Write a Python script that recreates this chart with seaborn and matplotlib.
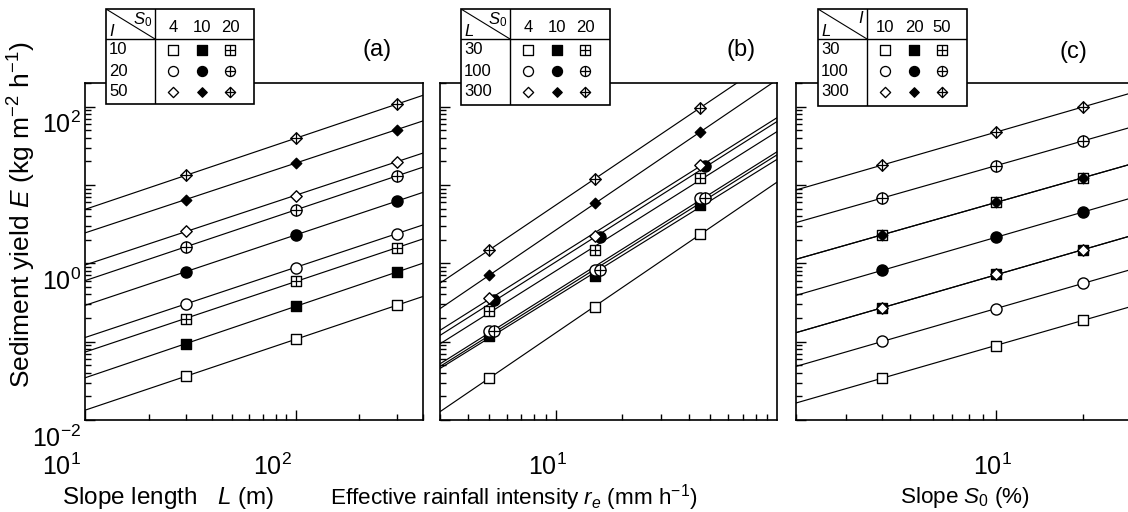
import numpy as np
import matplotlib
matplotlib.use("Agg")
import matplotlib.pyplot as plt
import matplotlib.transforms as mtransforms
from matplotlib import font_manager
from matplotlib.patches import Rectangle
from matplotlib.ticker import FixedLocator, LogLocator, FuncFormatter, NullFormatter
import seaborn as sns

sns.set_theme(style="ticks", rc={"axes.edgecolor": "black", "xtick.color": "black",
                                 "ytick.color": "black", "text.color": "black",
                                 "axes.labelcolor": "black"})
plt.rcParams["font.family"] = ["Liberation Sans", "DejaVu Sans"]
plt.rcParams["mathtext.fontset"] = "custom"
plt.rcParams["mathtext.rm"] = "Liberation Sans"
plt.rcParams["mathtext.it"] = "Liberation Sans:italic"
plt.rcParams["mathtext.bf"] = "Liberation Sans:bold"

# ---------------- data ----------------
I_levels = [10, 20, 50]
S0_levels = [4, 10, 20]
L_levels = [30, 100, 300]

# panel (a): x = slope length L; rows of each array: S0 = 4, 10, 20
L_a = [30, 100, 300]
E_a_I10 = [[0.036, 0.108, 0.29], [0.094, 0.284, 0.77], [0.197, 0.593, 1.57]]
E_a_I20 = [[0.304, 0.88, 2.40], [0.78, 2.31, 6.2], [1.62, 4.82, 13.0]]
E_a_I50 = [[2.55, 7.3, 19.9], [6.5, 19.1, 50.7], [13.2, 39.7, 107.0]]

# panel (b): x = effective rainfall intensity re; rows: S0 = 4, 10, 20
re_b = [5, 15, 45]
E_b_L30 = [[0.0343, 0.279, 2.35], [0.117, 0.69, 5.5], [0.245, 1.48, 12.2]]
E_b_L100 = [[0.136, 0.82, 6.75], [0.345, 2.17, 17.7], [0.138, 0.83, 6.8]]
E_b_L300 = [[0.363, 2.24, 18.2], [0.70, 5.8, 47.4], [1.48, 11.9, 97.0]]

# panel (c): x = slope S0; rows: I = 10, 20, 50
S0_c = [4, 10, 20]
E_c_L30 = [[0.0343, 0.089, 0.187], [0.27, 0.72, 1.48], [2.31, 6.0, 12.3]]
E_c_L100 = [[0.101, 0.262, 0.555], [0.81, 2.17, 4.47], [6.8, 17.7, 36.3]]
E_c_L300 = [[0.27, 0.72, 1.48], [2.31, 6.0, 12.3], [18.0, 47.0, 99.0]]

row_labels_a = ["10", "20", "50"]
col_labels_a = ["4", "10", "20"]
row_labels_b = ["30", "100", "300"]
col_labels_b = ["4", "10", "20"]
row_labels_c = ["30", "100", "300"]
col_labels_c = ["10", "20", "50"]

# ---------------- style ----------------
W, H = 1128, 512
SHAPES = ["s", "o", "D"]
FILLS = ["open", "filled", "cross"]
MS = {"s": 7.8, "o": 8.0, "D": 5.8}
LW = 0.85

_names = {f.name for f in font_manager.fontManager.ttflist}
if "Liberation Sans Narrow" in _names:
    XLAB_FONT, XLAB_SIZE, XLAB_SIZE_A = ["Liberation Sans Narrow", "Liberation Sans"], 19.5, 21
else:
    XLAB_FONT, XLAB_SIZE, XLAB_SIZE_A = ["Liberation Sans", "DejaVu Sans"], 16.2, 17.5

fig = plt.figure(figsize=(W / 100, H / 100), dpi=100)
fig.patch.set_facecolor("white")


def px_rect(x0, y0, x1, y1):
    return [x0 / W, 1 - y1 / H, (x1 - x0) / W, (y1 - y0) / H]


def draw_markers(ax, x, y, shape, fill, scale=1.0, z=4):
    ms = MS[shape] * scale
    if fill == "filled" and shape == "D":
        ms *= 0.92
    fc = "black" if fill == "filled" else "white"
    sns.scatterplot(x=x, y=y, marker=shape, s=ms ** 2, color=fc, edgecolor="black",
                    linewidth=1.0 * min(scale, 1.0) ** 0.5, ax=ax, zorder=z, legend=False)
    if fill == "cross":
        pl = ms * np.sqrt(2) if shape == "D" else ms
        sns.scatterplot(x=x, y=y, marker="+", s=pl ** 2, color="black",
                        linewidth=0.9, ax=ax, zorder=z + 0.1, legend=False)


def draw_panel(ax, xvals, groups, xlim, dodge=None):
    dodge = dodge or {}
    ax.set_xscale("log")
    ax.set_yscale("log")
    xs_line = np.logspace(np.log10(xlim[0]), np.log10(xlim[1]), 50)
    for i, grp in enumerate(groups):
        for j, yv in enumerate(grp):
            xv = np.array(xvals, dtype=float) * dodge.get((i, j), 1.0)
            yv = np.array(yv, dtype=float)
            b1, b0 = np.polyfit(np.log10(xv), np.log10(yv), 1)
            sns.lineplot(x=xs_line, y=10 ** (b0 + b1 * np.log10(xs_line)), color="black",
                         lw=LW, ax=ax, zorder=2, legend=False)
    for i, grp in enumerate(groups):
        for j, yv in enumerate(grp):
            xv = np.array(xvals, dtype=float) * dodge.get((i, j), 1.0)
            draw_markers(ax, xv, np.array(yv, dtype=float), SHAPES[i], FILLS[j])
    ax.set_xlim(*xlim)
    ax.set_ylim(0.01, 200)
    ax.set_xlabel("")
    ax.set_ylabel("")
    ax.yaxis.set_major_locator(FixedLocator([1e-2, 1e-1, 1, 10, 100]))
    ax.yaxis.set_minor_locator(LogLocator(base=10, subs=np.arange(2, 10), numticks=30))
    ax.xaxis.set_minor_locator(LogLocator(base=10, subs=np.arange(2, 10), numticks=30))
    ax.xaxis.set_minor_formatter(NullFormatter())
    ax.yaxis.set_minor_formatter(NullFormatter())
    ax.tick_params(which="both", direction="in", top=False, right=False, width=1.0,
                   labelsize=18)
    ax.tick_params(which="major", length=7)
    ax.tick_params(which="minor", length=4)
    for sp in ax.spines.values():
        sp.set_linewidth(1.2)
        sp.set_color("black")


ax_a = fig.add_axes(px_rect(85, 83, 423, 420))
ax_b = fig.add_axes(px_rect(440, 83, 777, 420))
ax_c = fig.add_axes(px_rect(796, 83, 1133, 420))

draw_panel(ax_a, L_a, [E_a_I10, E_a_I20, E_a_I50], (10, 400))
draw_panel(ax_b, re_b, [E_b_L30, E_b_L100, E_b_L300], (3, 100),
           dodge={(1, 1): 1.055, (1, 2): 1.055})
draw_panel(ax_c, S0_c, [E_c_L30, E_c_L100, E_c_L300], (2, 30))

# x ticks
ax_a.xaxis.set_major_locator(FixedLocator([10, 100]))
ax_b.xaxis.set_major_locator(FixedLocator([10]))
ax_c.xaxis.set_major_locator(FixedLocator([10]))
sci = FuncFormatter(lambda v, p: r"$10^{%d}$" % round(np.log10(v)))
for ax in (ax_a, ax_b, ax_c):
    ax.xaxis.set_major_formatter(sci)
    ax.tick_params(axis="x", which="major", pad=24)
ax_a.yaxis.set_major_formatter(
    FuncFormatter(lambda v, p: (r"$10^{%d}$" % round(np.log10(v))) if round(np.log10(v)) % 2 == 0 else ""))
ax_a.tick_params(axis="y", which="major", pad=3)
ax_b.yaxis.set_major_formatter(NullFormatter())
ax_c.yaxis.set_major_formatter(NullFormatter())

off_y = mtransforms.ScaledTranslation(0, -16 / 100, fig.dpi_scale_trans)
for lbl in ax_a.get_yticklabels():
    lbl.set_transform(lbl.get_transform() + off_y)
for ax, dx in ((ax_a, -24), (ax_b, -8), (ax_c, -4)):
    off_x = mtransforms.ScaledTranslation(dx / 100, 0, fig.dpi_scale_trans)
    for lbl in ax.get_xticklabels():
        lbl.set_transform(lbl.get_transform() + off_x)

# axis titles
fig.text(22 / W, 1 - 215 / H, r"Sediment yield $E$ (kg m$^{-2}$ h$^{-1}$)", rotation=90,
         ha="center", va="center", fontsize=19)
fig.text(62 / W, 1 - 498 / H, r"Slope length   $L$ (m)", ha="left", va="center",
         fontsize=XLAB_SIZE_A, family=XLAB_FONT)
fig.text(330 / W, 1 - 498 / H, r"Effective rainfall intensity $r_e$ (mm h$^{-1}$)",
         ha="left", va="center", fontsize=XLAB_SIZE, family=XLAB_FONT)
fig.text(900 / W, 1 - 498 / H, r"Slope $S_0$ (%)", ha="left", va="center",
         fontsize=XLAB_SIZE, family=XLAB_FONT)

# panel letters
for txt, xc, yc in (("(a)", 377, 50), ("(b)", 741, 50), ("(c)", 1073, 52)):
    fig.text(xc / W, 1 - yc / H, txt, ha="center", va="center", fontsize=17)


# key tables
def draw_key(x0, y0, x1, y1, corner_top, corner_bottom, rows, cols):
    kax = fig.add_axes(px_rect(x0, y0, x1, y1))
    w, h = x1 - x0, y1 - y0
    sx, sy = 49, 30
    kax.add_patch(Rectangle((0, 0), w, h, facecolor="white", edgecolor="black", lw=1.2,
                            clip_on=False, zorder=0))
    kax.plot([sx, sx], [0, h], color="black", lw=1.0)
    kax.plot([0, w], [sy, sy], color="black", lw=1.0)
    kax.plot([0, sx], [0, sy], color="black", lw=0.8)
    kax.text(sx - 3, 1, corner_top, ha="right", va="top", fontsize=12)
    kax.text(3, sy, corner_bottom, ha="left", va="bottom", fontsize=12)
    col_x = [67, 96, 124]
    row_y = [sy + 11, sy + 32, sy + 53]
    for j, c in enumerate(cols):
        kax.text(col_x[j], sy * 0.62, c, ha="center", va="center", fontsize=12)
    for i, r in enumerate(rows):
        kax.text(3, row_y[i], r, ha="left", va="center", fontsize=12)
        for j in range(3):
            draw_markers(kax, [col_x[j]], [row_y[i]], SHAPES[i], FILLS[j], scale=0.9, z=5)
    kax.set_xlim(0, w)
    kax.set_ylim(h, 0)
    kax.set_xlabel("")
    kax.set_ylabel("")
    kax.axis("off")


draw_key(106, 9, 254, 104, r"$S_0$", r"$I$", row_labels_a, col_labels_a)
draw_key(461, 9, 610, 105, r"$S_0$", r"$L$", row_labels_b, col_labels_b)
draw_key(818, 9, 967, 106, r"$I$", r"$L$", row_labels_c, col_labels_c)

fig.savefig("out.png", dpi=100, facecolor="white")
